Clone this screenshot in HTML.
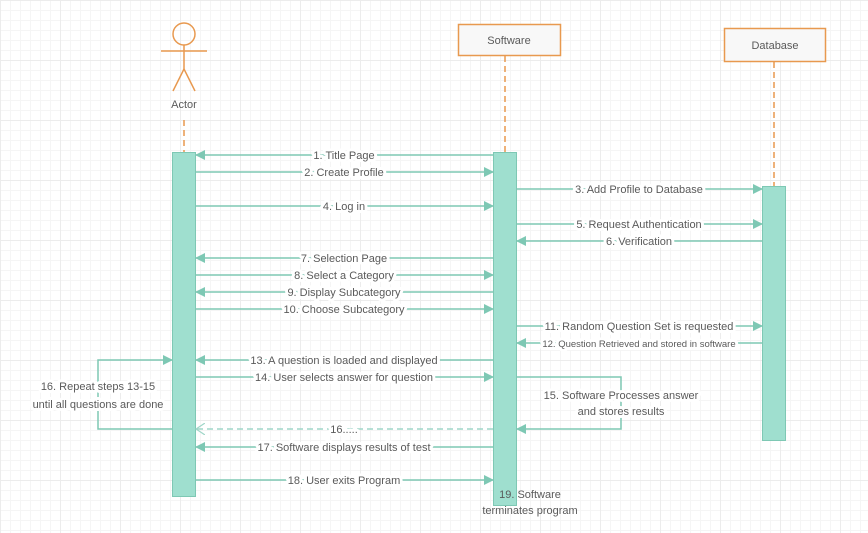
<!DOCTYPE html>
<html><head><meta charset="utf-8"><style>
html,body{margin:0;padding:0;}
body{width:868px;height:533px;overflow:hidden;background-color:#fff;
background-image:linear-gradient(#ececec 1px,transparent 1px),linear-gradient(90deg,#ececec 1px,transparent 1px),linear-gradient(#f5f5f5 1px,transparent 1px),linear-gradient(90deg,#f5f5f5 1px,transparent 1px);
background-size:60px 60px,60px 60px,10px 10px,10px 10px;}
svg{position:absolute;left:0;top:0;}
text{font-family:"Liberation Sans",sans-serif;font-size:11px;fill:#5a5a5a;}
.l{paint-order:stroke;stroke:#fff;stroke-width:6px;stroke-linejoin:round;}
</style></head><body>
<svg width="868" height="533" viewBox="0 0 868 533">
<defs>
<marker id="a" markerWidth="10" markerHeight="10" refX="9" refY="5" orient="auto" markerUnits="userSpaceOnUse"><path d="M0,0 L10,5 L0,10 z" fill="#7ec8b4"/></marker>
<marker id="o" markerWidth="10" markerHeight="12" refX="9" refY="6" orient="auto" markerUnits="userSpaceOnUse"><path d="M0,0 L9,6 L0,12" fill="none" stroke="#9fd6c8" stroke-width="1.2"/></marker>
</defs>
<g stroke="#e8994f" stroke-width="1.5" fill="none">
<circle cx="184" cy="34" r="11"/>
<line x1="161" y1="51" x2="207" y2="51"/>
<line x1="184" y1="45" x2="184" y2="69"/>
<line x1="184" y1="69" x2="173" y2="91"/>
<line x1="184" y1="69" x2="195" y2="91"/>
<line x1="184" y1="120" x2="184" y2="152" stroke-dasharray="6,4"/>
<line x1="505" y1="56" x2="505" y2="152" stroke-dasharray="6,4"/>
<line x1="774" y1="62" x2="774" y2="186" stroke-dasharray="6,4"/>
<rect x="458.5" y="24.5" width="102" height="31" fill="#f8f8f8"/>
<rect x="724.5" y="28.5" width="101" height="33" fill="#f8f8f8"/>
</g>
<text x="184" y="108" text-anchor="middle">Actor</text>
<text x="509" y="44" text-anchor="middle">Software</text>
<text x="775" y="49" text-anchor="middle">Database</text>
<g fill="#9fdfcf" stroke="#7ec8b4" stroke-width="1">
<rect x="172.5" y="152.5" width="23" height="344"/>
<rect x="493.5" y="152.5" width="23" height="353"/>
<rect x="762.5" y="186.5" width="23" height="254"/>
</g>
<g stroke="#7ec8b4" stroke-width="1.5" fill="none">
<line x1="493" y1="155" x2="196" y2="155" marker-end="url(#a)"/>
<line x1="196" y1="172" x2="493" y2="172" marker-end="url(#a)"/>
<line x1="517" y1="189" x2="762" y2="189" marker-end="url(#a)"/>
<line x1="196" y1="206" x2="493" y2="206" marker-end="url(#a)"/>
<line x1="517" y1="224" x2="762" y2="224" marker-end="url(#a)"/>
<line x1="762" y1="241" x2="517" y2="241" marker-end="url(#a)"/>
<line x1="493" y1="258" x2="196" y2="258" marker-end="url(#a)"/>
<line x1="196" y1="275" x2="493" y2="275" marker-end="url(#a)"/>
<line x1="493" y1="292" x2="196" y2="292" marker-end="url(#a)"/>
<line x1="196" y1="309" x2="493" y2="309" marker-end="url(#a)"/>
<line x1="517" y1="326" x2="762" y2="326" marker-end="url(#a)"/>
<line x1="762" y1="343" x2="517" y2="343" marker-end="url(#a)"/>
<line x1="493" y1="360" x2="196" y2="360" marker-end="url(#a)"/>
<line x1="196" y1="377" x2="493" y2="377" marker-end="url(#a)"/>
<polyline points="517,377 621,377 621,429 517,429" marker-end="url(#a)"/>
<line x1="493" y1="429" x2="196" y2="429" stroke="#9fd6c8" stroke-dasharray="6,4" marker-end="url(#o)"/>
<polyline points="172,429 98,429 98,360 172,360" marker-end="url(#a)"/>
<line x1="493" y1="447" x2="196" y2="447" marker-end="url(#a)"/>
<line x1="196" y1="480" x2="493" y2="480" marker-end="url(#a)"/>
</g>
<g class="l" text-anchor="middle">
<text x="344" y="159">1. Title Page</text>
<text x="344" y="176">2. Create Profile</text>
<text x="639" y="193">3. Add Profile to Database</text>
<text x="344" y="210">4. Log in</text>
<text x="639" y="228">5. Request Authentication</text>
<text x="639" y="245">6. Verification</text>
<text x="344" y="262">7. Selection Page</text>
<text x="344" y="279">8. Select a Category</text>
<text x="344" y="296">9. Display Subcategory</text>
<text x="344" y="313">10. Choose Subcategory</text>
<text x="639" y="330">11. Random Question Set is requested</text>
<text x="639" y="347" style="font-size:9.5px">12. Question Retrieved and stored in software</text>
<text x="344" y="364">13. A question is loaded and displayed</text>
<text x="344" y="381">14. User selects answer for question</text>
<text x="621" y="399">15. Software Processes answer</text>
<text x="621" y="415">and stores results</text>
<text x="344" y="433">16.....</text>
<text x="98" y="390">16. Repeat steps 13-15</text>
<text x="98" y="408">until all questions are done</text>
<text x="344" y="451">17. Software displays results of test</text>
<text x="344" y="484">18. User exits Program</text>
</g>
<text x="530" y="498" text-anchor="middle">19. Software</text>
<text x="530" y="514" text-anchor="middle">terminates program</text>
</svg>
</body></html>
